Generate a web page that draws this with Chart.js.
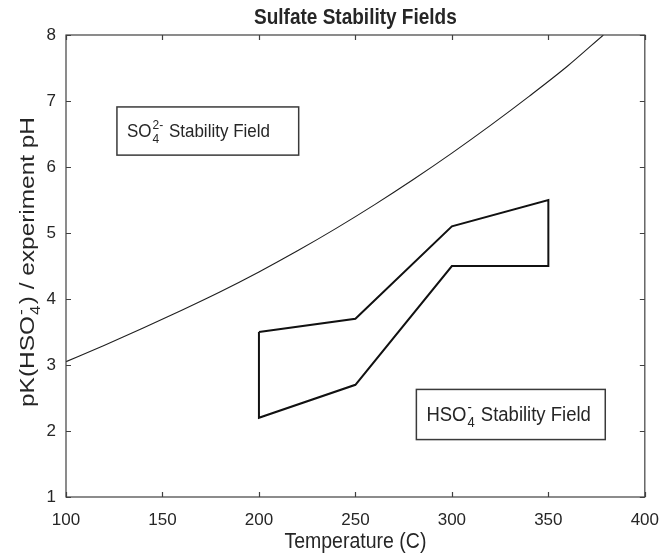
<!DOCTYPE html>
<html>
<head>
<meta charset="utf-8">
<script src="https://cdn.jsdelivr.net/npm/chart.js@4.4.1/dist/chart.umd.min.js"></script>
<style>
  html, body { margin: 0; padding: 0; background: #fff; }
  #wrap { width: 664px; height: 556px; }
</style>
</head>
<body>
<div id="wrap"><canvas id="chart" width="664" height="556"></canvas></div>
<script>
// pK(HSO4-) vs temperature
const curveTemp = [100, 120, 140, 160, 180, 200, 220, 240, 260, 280, 300, 320, 340, 360, 378.5];
const curvePK = [3.05, 3.30, 3.56, 3.83, 4.11, 4.41, 4.73, 5.07, 5.43, 5.81, 6.21, 6.63, 7.07, 7.53, 8.0];

// experiment pH envelope, closed outline
const fieldTemp = [200, 250, 300, 350, 350, 300, 250, 200, 200];
const fieldPH = [3.5, 3.7, 5.1, 5.5, 4.5, 4.5, 2.7, 2.2, 3.5];

// axis ticks
const xTicks = [100, 150, 200, 250, 300, 350, 400];
const yTicks = [1, 2, 3, 4, 5, 6, 7, 8];

const FONT = '"Liberation Sans", Arial, Helvetica, sans-serif';
const TXT = '#262626';
const STRETCH = 1.12; // text in the original is a bit taller than wide

// text boxes, placed in data units (temp, pH)
const notes = [
  { t0: 126.4, t1: 220.6, y0: 6.91, y1: 6.18, size: 17, parts: ['SO', { sup: '2-', sub: '4' }, ' Stability Field'] },
  { t0: 281.6, t1: 379.5, y0: 2.63, y1: 1.87, size: 18.5, parts: ['HSO', { sup: '-', sub: '4' }, ' Stability Field'] }
];

// draw text with stacked sub/superscripts, baseline at 0, returns width
function richText(ctx, parts, size, weight, draw) {
  let x = 0;
  const small = Math.round(size * 0.72);
  parts.forEach((p) => {
    if (typeof p === 'string') {
      ctx.font = weight + ' ' + size + 'px ' + FONT;
      if (draw) ctx.fillText(p, x, 0);
      x += ctx.measureText(p).width;
    } else {
      ctx.font = small + 'px ' + FONT;
      let w = 0;
      if (p.sup) {
        if (draw) ctx.fillText(p.sup, x + 1, -size * 0.42);
        w = Math.max(w, ctx.measureText(p.sup).width);
      }
      if (p.sub) {
        if (draw) ctx.fillText(p.sub, x + 1, size * 0.32);
        w = Math.max(w, ctx.measureText(p.sub).width);
      }
      x += w + 2;
    }
  });
  return x;
}

function label(ctx, parts, x, y, size, opts) {
  opts = opts || {};
  const weight = opts.bold ? 'bold' : 'normal';
  ctx.save();
  ctx.fillStyle = TXT;
  ctx.textBaseline = 'alphabetic';
  ctx.textAlign = 'left';
  ctx.translate(x, y);
  if (opts.rotate) {
    ctx.rotate(-Math.PI / 2);
    ctx.scale(opts.stretch || STRETCH, 1);
  } else {
    ctx.scale(1, STRETCH);
  }
  const w = richText(ctx, parts, size, weight, false);
  const dx = opts.align === 'center' ? -w / 2 : 0;
  ctx.translate(dx, 0);
  richText(ctx, parts, size, weight, true);
  ctx.restore();
}

const frame = {
  id: 'frame',
  afterDraw(chart) {
    const ctx = chart.ctx;
    const { left, right, top, bottom } = chart.chartArea;
    const xs = chart.scales.x;
    const ys = chart.scales.y;

    ctx.save();
    ctx.strokeStyle = '#404040';
    ctx.lineWidth = 1.2;
    ctx.strokeRect(left, top, right - left, bottom - top);

    // inward tick marks on all four sides
    ctx.beginPath();
    xTicks.forEach((v) => {
      const px = Math.round(xs.getPixelForValue(v)) + 0.5;
      ctx.moveTo(px, bottom); ctx.lineTo(px, bottom - 5);
      ctx.moveTo(px, top); ctx.lineTo(px, top + 5);
    });
    yTicks.forEach((v) => {
      const py = Math.round(ys.getPixelForValue(v)) + 0.5;
      ctx.moveTo(left, py); ctx.lineTo(left + 5, py);
      ctx.moveTo(right, py); ctx.lineTo(right - 5, py);
    });
    ctx.stroke();

    // annotation boxes
    notes.forEach((n) => {
      const x0 = xs.getPixelForValue(n.t0);
      const x1 = xs.getPixelForValue(n.t1);
      const y0 = ys.getPixelForValue(n.y0);
      const y1 = ys.getPixelForValue(n.y1);
      ctx.fillStyle = '#fff';
      ctx.fillRect(x0, y0, x1 - x0, y1 - y0);
      ctx.strokeStyle = '#3a3a3a';
      ctx.lineWidth = 1.5;
      ctx.strokeRect(x0, y0, x1 - x0, y1 - y0);
      label(ctx, n.parts, x0 + 10, (y0 + y1) / 2 + 6, n.size);
    });
    ctx.restore();

    // titles
    const cx = (left + right) / 2;
    label(ctx, ['Sulfate Stability Fields'], cx, 24, 19, { bold: true, align: 'center' });
    label(ctx, ['Temperature (C)'], cx, 548, 19.5, { align: 'center' });
    label(ctx, ['pK(HSO', { sup: '-', sub: '4' }, ') / experiment pH'], 34, 262, 20,
      { rotate: true, align: 'center', stretch: 1.22 });
  }
};

new Chart(document.getElementById('chart'), {
  type: 'line',
  data: {
    datasets: [
      {
        data: curveTemp.map((t, i) => ({ x: t, y: curvePK[i] })),
        borderColor: '#1f1f1f',
        borderWidth: 1.1,
        pointRadius: 0,
        cubicInterpolationMode: 'monotone',
        fill: false
      },
      {
        data: fieldTemp.map((t, i) => ({ x: t, y: fieldPH[i] })),
        borderColor: '#111',
        borderWidth: 2,
        pointRadius: 0,
        tension: 0,
        borderJoinStyle: 'miter',
        fill: false
      }
    ]
  },
  options: {
    responsive: false,
    animation: false,
    events: [],
    layout: { padding: { left: 0, right: 16, top: 35, bottom: 0 } },
    plugins: { legend: { display: false }, tooltip: { enabled: false }, title: { display: false } },
    scales: {
      x: {
        type: 'linear',
        min: 100,
        max: 400,
        afterBuildTicks: (s) => { s.ticks = xTicks.map((v) => ({ value: v })); },
        afterFit: (s) => { s.height = 59; },
        grid: { display: false },
        border: { display: false },
        ticks: { color: TXT, font: { family: FONT, size: 17 }, padding: 5, maxRotation: 0 }
      },
      y: {
        type: 'linear',
        min: 1,
        max: 8,
        afterBuildTicks: (s) => { s.ticks = yTicks.map((v) => ({ value: v })); },
        afterFit: (s) => { s.width = 66; },
        grid: { display: false },
        border: { display: false },
        ticks: { color: TXT, font: { family: FONT, size: 17 }, padding: 2 }
      }
    }
  },
  plugins: [frame]
});
</script>
</body>
</html>
